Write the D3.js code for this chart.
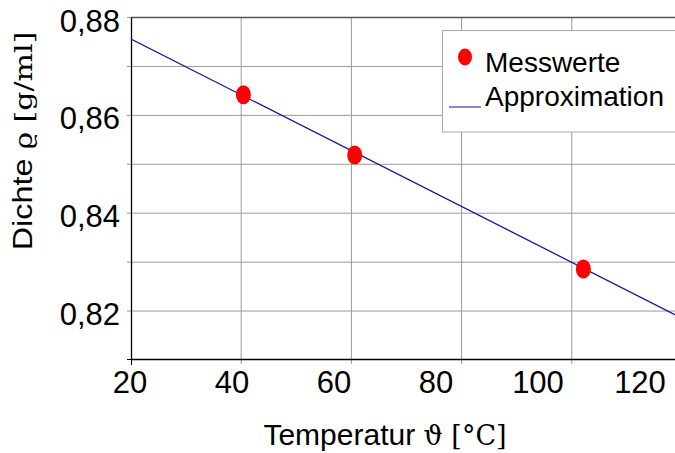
<!DOCTYPE html>
<html>
<head>
<meta charset="utf-8">
<script src="https://cdn.jsdelivr.net/npm/d3@7"></script>
<style>
  body { margin: 0; background: #fff; }
  svg { display: block; }
  text { font-family: "Liberation Sans", Arial, sans-serif; fill: #000; }
</style>
</head>
<body>
<svg id="chart"></svg>
<script>
// measured points
const temps = [40.4, 60.6, 102.1];
const densities = [0.8642, 0.8519, 0.8286];
// linear fit, drawn from end to end
const fitTemps = [20, 122];
const fitDensities = [0.8756, 0.8174];
const xTicks = [20, 40, 60, 80, 100, 120];
const yTicks = [0.82, 0.84, 0.86, 0.88];
const yMinor = [0.83, 0.85, 0.87];
const legendLabels = ['Messwerte', 'Approximation'];

const width = 675, height = 453;
const margin = {top: 17.5, left: 131, bottom: 94};
const plotRight = 693;

const svg = d3.select('#chart').attr('width', width).attr('height', height);

const x = d3.scaleLinear().domain([20, 122]).range([margin.left, plotRight]);
const y = d3.scaleLinear().domain([0.8102, 0.88]).range([height - margin.bottom, margin.top]);
// tick labels in the source sit on a slightly narrower spacing than the grid
const xLabel = d3.scaleLinear().domain([20, 120]).range([130, 640]);

const locale = d3.formatLocale({decimal: ',', thousands: '.', grouping: [3], currency: ['', '€']});
const fmt = locale.format('.2f');

// grid
const grid = svg.append('g').attr('stroke', '#9a9a9a').attr('stroke-width', 1);
grid.selectAll('.vg').data(xTicks.slice(1)).join('line')
    .attr('x1', d => x(d)).attr('x2', d => x(d))
    .attr('y1', y.range()[1]).attr('y2', y.range()[0] + 5);
grid.selectAll('.hg').data(yTicks.concat(yMinor)).join('line')
    .attr('x1', margin.left - 4).attr('x2', plotRight)
    .attr('y1', d => y(d)).attr('y2', d => y(d));

// frame
svg.append('line')
    .attr('x1', margin.left).attr('x2', plotRight)
    .attr('y1', y.range()[1]).attr('y2', y.range()[1])
    .attr('stroke', '#555').attr('stroke-width', 1.3);

const xAxis = d3.axisBottom(x).tickValues([20]).tickSize(6).tickSizeOuter(0).tickFormat('');
svg.append('g')
    .attr('transform', `translate(0, ${y.range()[0]})`)
    .call(xAxis)
    .call(g => g.select('.domain').attr('stroke', '#000').attr('stroke-width', 1.3));

const yAxis = d3.axisLeft(y).tickValues([y.domain()[0]]).tickSize(4).tickSizeOuter(0).tickFormat('');
svg.append('g')
    .attr('transform', `translate(${margin.left}, 0)`)
    .call(yAxis)
    .call(g => g.select('.domain').attr('stroke', '#000').attr('stroke-width', 1.3));

// tick labels
svg.append('g').selectAll('text').data(xTicks).join('text')
    .attr('x', d => xLabel(d)).attr('y', 393)
    .attr('text-anchor', 'middle')
    .style('font-size', '31px')
    .text(d => d);

svg.append('g').selectAll('text').data(yTicks).join('text')
    .attr('x', 120).attr('y', d => y(d) + 14)
    .attr('text-anchor', 'end')
    .style('font-size', '31px')
    .text(d => fmt(d));

// axis titles
const xt = svg.append('text')
    .attr('x', 385).attr('y', 445)
    .attr('text-anchor', 'middle')
    .style('font-size', '30px');
xt.append('tspan').text('Temperatur ');
xt.append('tspan').style('font-family', '"DejaVu Serif", serif').style('font-size', '27px').text('ϑ [°C]');

// the y title is stretched along its length in the source
const yt = svg.append('text')
    .attr('transform', 'translate(32, 141) rotate(-90) scale(1.2, 1)')
    .attr('text-anchor', 'middle')
    .style('font-size', '27px');
yt.append('tspan').text('Dichte ');
yt.append('tspan').style('font-family', '"DejaVu Serif", serif').style('font-size', '25px').text('ϱ [g/ml]');

// fit line
svg.append('clipPath').attr('id', 'clip').append('rect')
    .attr('x', margin.left).attr('y', margin.top)
    .attr('width', plotRight - margin.left).attr('height', y.range()[0] - margin.top);

const fit = fitTemps.map((t, i) => [t, fitDensities[i]]);
svg.append('path')
    .datum(fit)
    .attr('clip-path', 'url(#clip)')
    .attr('fill', 'none')
    .attr('stroke', '#1a1a96')
    .attr('stroke-width', 1.3)
    .attr('d', d3.line().x(d => x(d[0])).y(d => y(d[1])));

// measured points
svg.append('g').selectAll('ellipse').data(temps).join('ellipse')
    .attr('cx', d => x(d))
    .attr('cy', (d, i) => y(densities[i]))
    .attr('rx', 7.5).attr('ry', 9.5)
    .attr('fill', '#ff0000');

// legend
const lg = svg.append('g');
lg.append('rect')
    .attr('x', 442.5).attr('y', 30.5).attr('width', 250).attr('height', 101.5)
    .attr('fill', '#fff').attr('stroke', '#aaa').attr('stroke-width', 1);
lg.append('ellipse').attr('cx', 465).attr('cy', 57).attr('rx', 7).attr('ry', 8.5).attr('fill', '#ff0000');
lg.append('line').attr('x1', 449).attr('x2', 481).attr('y1', 107).attr('y2', 107)
    .attr('stroke', '#6666bb').attr('stroke-width', 1.5);
lg.selectAll('text.lab').data(legendLabels).join('text')
    .attr('class', 'lab')
    .attr('x', 485).attr('y', (d, i) => 72 + i * 34)
    .style('font-size', '28px')
    .text(d => d);
</script>
</body>
</html>
